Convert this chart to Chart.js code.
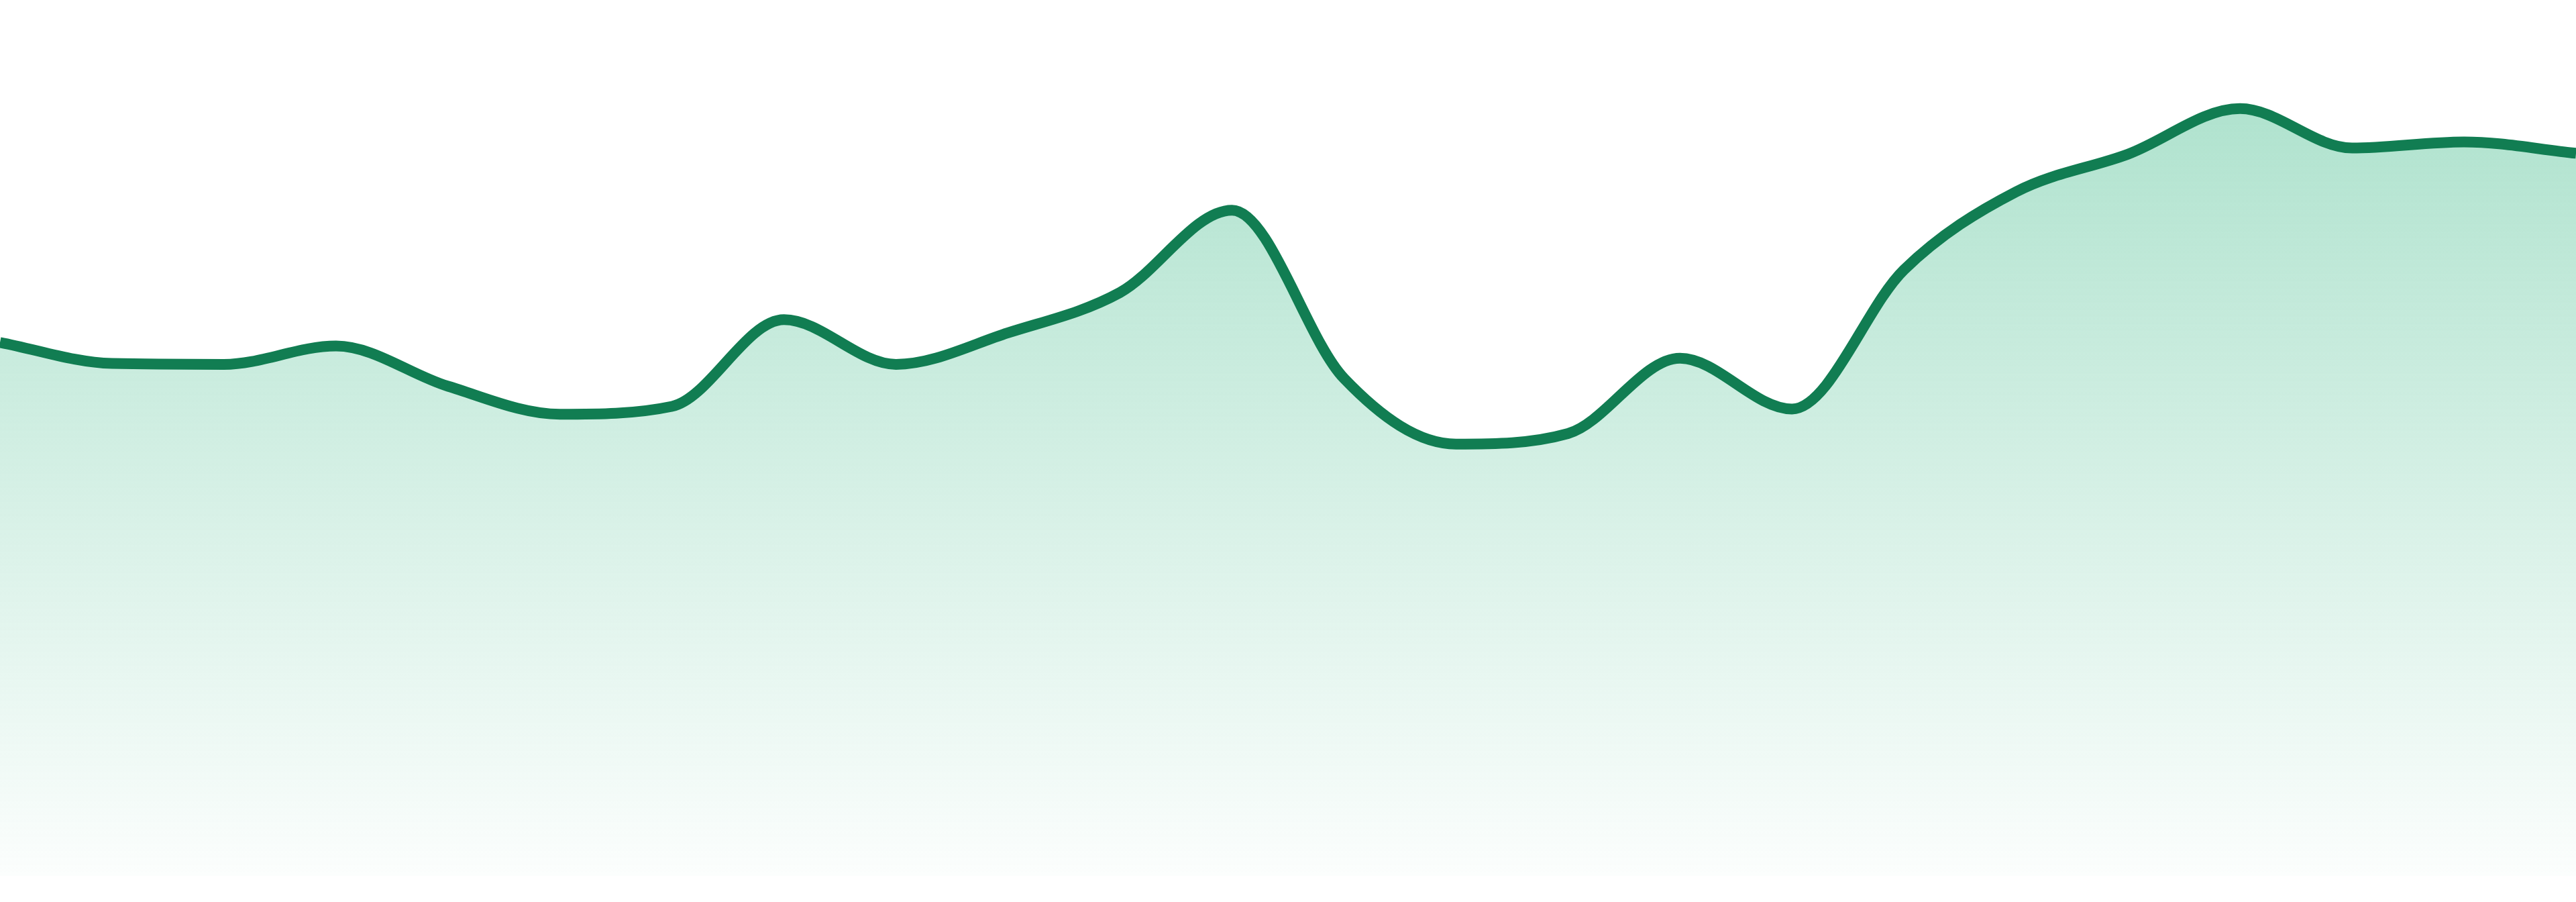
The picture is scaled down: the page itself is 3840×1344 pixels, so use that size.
<!DOCTYPE html>
<html>
<head>
<meta charset="utf-8">
<script src="https://cdn.jsdelivr.net/npm/chart.js@4/dist/chart.umd.min.js"></script>
<style>
  html, body { margin: 0; padding: 0; background: #ffffff; }
  #wrap { width: 3840px; height: 1344px; }
</style>
</head>
<body>
<div id="wrap"><canvas id="myChart"></canvas></div>
<script>
const ctx = document.getElementById("myChart");

const labels = [
  "1", "2", "3", "4", "5", "6", "7", "8", "9", "10", "11", "12",
  "13", "14", "15", "16", "17", "18", "19", "20", "21", "22", "23", "24",
];
const values = [
  60.9, 58.5, 58.4, 60.5, 55.9, 52.7, 53.6, 63.5, 58.4, 62.0, 66.6, 76.0,
  56.8, 49.3, 50.5, 59.1, 53.3, 69.2, 78.1, 82.4, 87.6, 83.1, 83.8, 82.5,
];

function areaFill(context) {
  const area = context.chart.chartArea;
  if (!area) return "rgba(76,191,145,0.25)";
  const g = context.chart.ctx.createLinearGradient(0, area.top, 0, area.bottom);
  g.addColorStop(0, "rgba(76,191,145,0.5)");
  g.addColorStop(1, "rgba(76,191,145,0.02)");
  return g;
}

new Chart(ctx, {
  type: "line",
  data: {
    labels: labels,
    datasets: [
      {
        data: values,
        borderColor: "#117d52",
        borderWidth: 16,
        backgroundColor: areaFill,
        fill: "start",
        cubicInterpolationMode: "monotone",
        pointRadius: 0,
      },
    ],
  },
  options: {
    responsive: true,
    maintainAspectRatio: false,
    animation: false,
    layout: { padding: { top: 0, bottom: 39, left: 0, right: 0 } },
    scales: {
      x: { display: false, offset: false },
      y: { display: false, min: 0, max: 100 },
    },
    plugins: {
      legend: { display: false },
      tooltip: { enabled: false },
    },
  },
});
</script>
</body>
</html>
